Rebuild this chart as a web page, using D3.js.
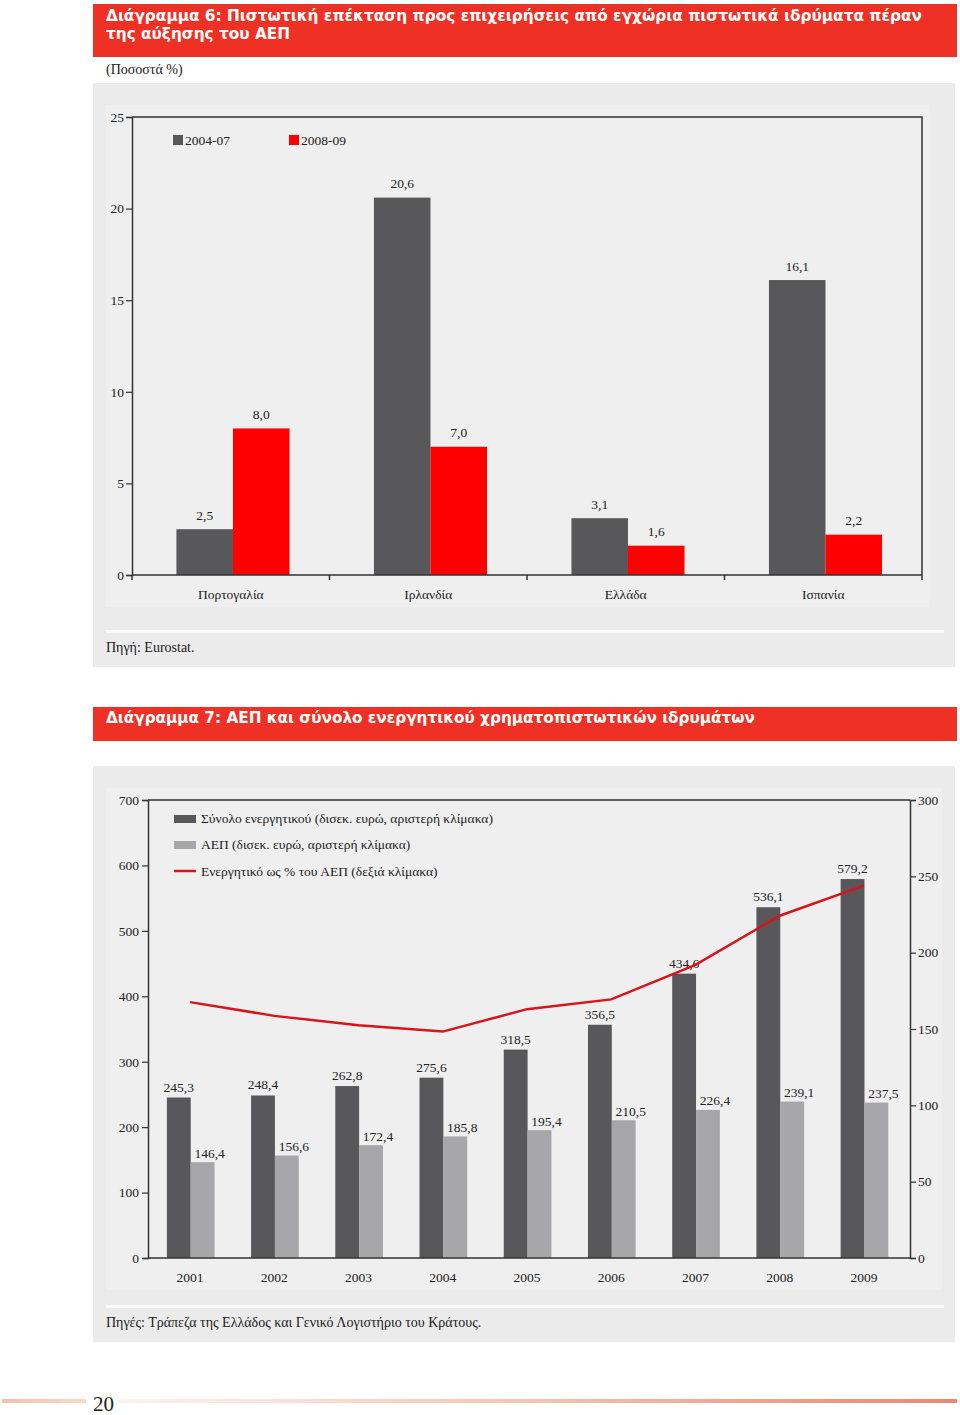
<!DOCTYPE html>
<html><head><meta charset="utf-8">
<script src="https://cdn.jsdelivr.net/npm/d3@7"></script>
<style>
body{margin:0;background:#fff;}
svg text{font-family:"Liberation Serif","Times New Roman",serif;}
</style></head>
<body><svg id="c" width="960" height="1415"></svg>
<script>
// ---------- Data: chart 6 ----------
const countries = ["Πορτογαλία","Ιρλανδία","Ελλάδα","Ισπανία"];
const series6Names = ["2004-07","2008-09"];
const values0407 = [2.5, 20.6, 3.1, 16.1];
const values0809 = [8.0, 7.0, 1.6, 2.2];
const ticks6 = [0,5,10,15,20,25];
const labels0407 = ["2,5","20,6","3,1","16,1"];
const labels0809 = ["8,0","7,0","1,6","2,2"];

// ---------- Data: chart 7 ----------
const years = ["2001","2002","2003","2004","2005","2006","2007","2008","2009"];
const assets = [245.3, 248.4, 262.8, 275.6, 318.5, 356.5, 434.6, 536.1, 579.2];
const gdp = [146.4, 156.6, 172.4, 185.8, 195.4, 210.5, 226.4, 239.1, 237.5];
const ratio = [167.6, 158.6, 152.4, 148.3, 163.0, 169.4, 192.0, 224.2, 243.9];
const leftTicks7 = [0,100,200,300,400,500,600,700];
const rightTicks7 = [0,50,100,150,200,250,300];
const series7Names = ["Σύνολο ενεργητικού (δισεκ. ευρώ, αριστερή κλίμακα)","ΑΕΠ (δισεκ. ευρώ, αριστερή κλίμακα)","Ενεργητικό ως % του ΑΕΠ (δεξιά κλίμακα)"];

const fmt = v => v.toFixed(1).replace(".", ",");

const RED_BAR = "#ee3124", DARK="#58585a", LIGHT="#a7a7a9", RED="#ff0000", LINE="#d7141a";
const svg = d3.select("#c");

function titleBar(y0, h, lines, widths){
  svg.append("rect").attr("x",93).attr("y",y0).attr("width",864).attr("height",h).attr("fill",RED_BAR);
  lines.forEach((t,i)=>{
    svg.append("text").attr("x",106).attr("y",t.y).text(t.text)
      .attr("fill","#fff").attr("font-size",15).attr("font-weight","bold")
      .style("font-family","'DejaVu Sans Condensed','Liberation Sans Narrow','DejaVu Sans',sans-serif")
      .attr("textLength",widths[i]).attr("lengthAdjust","spacingAndGlyphs");
  });
}

// ================= Chart 6 =================
titleBar(4, 53, [{text:"Διάγραμμα 6: Πιστωτική επέκταση προς επιχειρήσεις από εγχώρια πιστωτικά ιδρύματα πέραν", y:21},{text:"της αύξησης του ΑΕΠ", y:39}],[816,184]);
svg.append("text").attr("x",106).attr("y",74).attr("font-size",14).attr("fill","#222").text("(Ποσοστά %)");

svg.append("rect").attr("x",93).attr("y",83).attr("width",862).attr("height",584).attr("fill","#ebebeb");
svg.append("rect").attr("x",106).attr("y",105).attr("width",824).attr("height",502).attr("fill","#efefef");
svg.append("rect").attr("x",106).attr("y",630).attr("width",838).attr("height",3).attr("fill","#fafafa");
svg.append("text").attr("x",106).attr("y",652).attr("font-size",14).attr("fill","#222").text("Πηγή: Eurostat.");

const g6 = svg.append("g");
const y6 = d3.scaleLinear().domain([0,25]).range([575,117]);
const x6 = d3.scaleBand().domain(countries).range([132,922]).padding(0);
const xs6 = d3.scaleBand().domain(series6Names).range([x6.bandwidth()*0.225, x6.bandwidth()*0.7975]).padding(0);

// frame
g6.append("path").attr("d",`M132,${y6(25)}H922V${y6(0)}`).attr("fill","none").attr("stroke","#333").attr("stroke-width",1.5);
// bars
const data6 = countries.map((c,i)=>({c, vals:[{k:series6Names[0],v:values0407[i],l:labels0407[i],col:DARK},{k:series6Names[1],v:values0809[i],l:labels0809[i],col:RED}]}));
const grp6 = g6.selectAll("g.grp").data(data6).join("g").attr("transform",d=>`translate(${x6(d.c)},0)`);
grp6.selectAll("rect").data(d=>d.vals).join("rect")
  .attr("x",d=>xs6(d.k)).attr("width",xs6.bandwidth())
  .attr("y",d=>y6(d.v)).attr("height",d=>y6(0)-y6(d.v)).attr("fill",d=>d.col);
grp6.selectAll("text").data(d=>d.vals).join("text")
  .attr("x",d=>xs6(d.k)+xs6.bandwidth()/2).attr("y",d=>y6(d.v)-9.5)
  .attr("text-anchor","middle").attr("font-size",13.5).attr("fill","#222").text(d=>d.l);

// axes
const ax6 = g6.append("g").attr("transform","translate(132,0)").call(d3.axisLeft(y6).tickValues(ticks6).tickSize(6).tickPadding(2).tickFormat(d3.format("d")));
const bx6 = g6.append("g").attr("transform",`translate(0,${y6(0)})`).call(d3.axisBottom(x6).tickSize(0).tickPadding(14));
// boundary ticks on x axis
g6.append("g").selectAll("line").data(countries.concat(["end"])).join("line")
  .attr("x1",(d,i)=>132+i*x6.bandwidth()).attr("x2",(d,i)=>132+i*x6.bandwidth())
  .attr("y1",y6(0)).attr("y2",y6(0)+5).attr("stroke","#333").attr("stroke-width",1.5);
[ax6,bx6].forEach(a=>{
  a.select(".domain").attr("stroke","#333").attr("stroke-width",1.5);
  a.selectAll(".tick line").attr("stroke","#333").attr("stroke-width",1.2);
  a.selectAll("text").attr("font-size",13.5).attr("fill","#222").style("font-family","'Liberation Serif',serif");
});
bx6.select(".domain").attr("d",`M132,0H922`);

// legend 6
const leg6 = g6.append("g");
[[series6Names[0],DARK,173],[series6Names[1],RED,289]].forEach(([n,c,x])=>{
  leg6.append("rect").attr("x",x).attr("y",135).attr("width",10).attr("height",10).attr("fill",c);
  leg6.append("text").attr("x",x+12).attr("y",145).attr("font-size",13.5).attr("fill","#222").text(n);
});

// ================= Chart 7 =================
titleBar(707, 34, [{text:"Διάγραμμα 7: ΑΕΠ και σύνολο ενεργητικού χρηματοπιστωτικών ιδρυμάτων", y:723}],[649]);

svg.append("rect").attr("x",93).attr("y",766).attr("width",862).attr("height",576).attr("fill","#ebebeb");
svg.append("rect").attr("x",106).attr("y",788).attr("width",836).attr("height",502).attr("fill","#efefef");
svg.append("rect").attr("x",106).attr("y",1305).attr("width",838).attr("height",3).attr("fill","#fafafa");
svg.append("text").attr("x",106).attr("y",1327).attr("font-size",14).attr("fill","#222").text("Πηγές: Τράπεζα της Ελλάδος και Γενικό Λογιστήριο του Κράτους.");

const g7 = svg.append("g");
const yL = d3.scaleLinear().domain([0,700]).range([1258,800]);
const yR = d3.scaleLinear().domain([0,300]).range([1258,800]);
const x7 = d3.scaleBand().domain(years).range([148,906]).padding(0);
const xs7 = d3.scaleBand().domain(["assets","gdp"]).range([x7.bandwidth()*0.224, x7.bandwidth()*0.79]).padding(0);

g7.append("path").attr("d",`M148,800H910`).attr("fill","none").attr("stroke","#333").attr("stroke-width",1.5);

const data7 = years.map((y,i)=>({y, vals:[{k:"assets",v:assets[i],col:DARK,dx:0,off:6},{k:"gdp",v:gdp[i],col:LIGHT,dx:7,off:4.5}]}));
const grp7 = g7.selectAll("g.grp").data(data7).join("g").attr("transform",d=>`translate(${x7(d.y)},0)`);
grp7.selectAll("rect").data(d=>d.vals).join("rect")
  .attr("x",d=>xs7(d.k)).attr("width",xs7.bandwidth())
  .attr("y",d=>yL(d.v)).attr("height",d=>yL(0)-yL(d.v)).attr("fill",d=>d.col);
grp7.selectAll("text").data(d=>d.vals).join("text")
  .attr("x",d=>xs7(d.k)+xs7.bandwidth()/2+d.dx).attr("y",d=>yL(d.v)-d.off)
  .attr("text-anchor","middle").attr("font-size",13.5).attr("fill","#222").text(d=>fmt(d.v));

const line = d3.line().x((d,i)=>x7(years[i])+x7.bandwidth()/2).y(d=>yR(d));
g7.append("path").datum(ratio).attr("d",line).attr("fill","none").attr("stroke",LINE).attr("stroke-width",2.5);

const axL = g7.append("g").attr("transform","translate(148,0)").call(d3.axisLeft(yL).tickValues(leftTicks7).tickSize(6).tickPadding(3).tickFormat(d3.format("d")));
const axR = g7.append("g").attr("transform","translate(910,0)").call(d3.axisRight(yR).tickValues(rightTicks7).tickSize(6).tickPadding(2).tickFormat(d3.format("d")));
const axB = g7.append("g").attr("transform",`translate(0,1258)`).call(d3.axisBottom(x7).tickSize(0).tickPadding(14));
[axL,axR,axB].forEach(a=>{
  a.select(".domain").attr("stroke","#333").attr("stroke-width",1.5);
  a.selectAll(".tick line").attr("stroke","#333").attr("stroke-width",1.2);
  a.selectAll("text").attr("font-size",13.5).attr("fill","#222").style("font-family","'Liberation Serif',serif");
});
axB.select(".domain").attr("d","M148,0H910");

// legend 7
const leg7 = g7.append("g");
leg7.append("rect").attr("x",174).attr("y",815).attr("width",22).attr("height",8).attr("fill",DARK);
leg7.append("text").attr("x",201).attr("y",823).attr("font-size",13.5).attr("fill","#222").text(series7Names[0]);
leg7.append("rect").attr("x",174).attr("y",841).attr("width",22).attr("height",8).attr("fill",LIGHT);
leg7.append("text").attr("x",201).attr("y",849).attr("font-size",13.5).attr("fill","#222").text(series7Names[1]);
leg7.append("line").attr("x1",174).attr("x2",196).attr("y1",871).attr("y2",871).attr("stroke",LINE).attr("stroke-width",2.5);
leg7.append("text").attr("x",201).attr("y",876).attr("font-size",13.5).attr("fill","#222").text(series7Names[2]);

// ================= Footer =================
const defs = svg.append("defs");
const grad = defs.append("linearGradient").attr("id","fg").attr("x1","0").attr("x2","1");
grad.append("stop").attr("offset","0").attr("stop-color","#fdf3ee");
grad.append("stop").attr("offset","0.5").attr("stop-color","#f3c3b0");
grad.append("stop").attr("offset","1").attr("stop-color","#e58a72");
const grad2 = defs.append("linearGradient").attr("id","fg2").attr("x1","0").attr("x2","1");
grad2.append("stop").attr("offset","0").attr("stop-color","#f2c0ae");
grad2.append("stop").attr("offset","1").attr("stop-color","#f7d9cc");
svg.append("rect").attr("x",2).attr("y",1399).attr("width",84).attr("height",4).attr("fill","url(#fg2)");
svg.append("rect").attr("x",118).attr("y",1399).attr("width",839).attr("height",4).attr("fill","url(#fg)");
svg.append("text").attr("x",93).attr("y",1411).attr("font-size",21).attr("fill","#222").text("20");
</script></body></html>
